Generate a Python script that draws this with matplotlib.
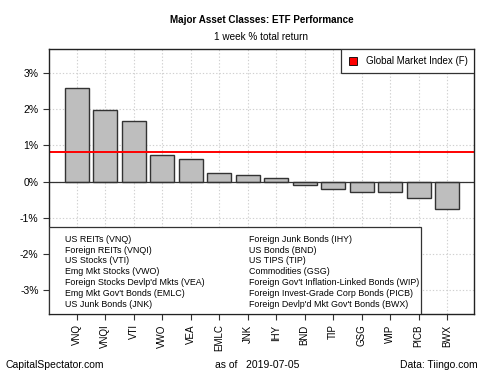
import matplotlib.pyplot as plt
import numpy as np
from matplotlib.patches import Rectangle

TICKERS = ["VNQ", "VNQI", "VTI", "VWO", "VEA", "EMLC", "JNK",
           "IHY", "BND", "TIP", "GSG", "WIP", "PICB", "BWX"]
RETURNS = [2.58, 1.98, 1.66, 0.72, 0.61, 0.24, 0.17,
           0.11, -0.11, -0.20, -0.28, -0.30, -0.45, -0.75]
GMI = 0.82
NAMES_LEFT = ["US REITs (VNQ)", "Foreign REITs (VNQI)", "US Stocks (VTI)",
              "Emg Mkt Stocks (VWO)", "Foreign Stocks Devlp'd Mkts (VEA)",
              "Emg Mkt Gov't Bonds (EMLC)", "US Junk Bonds (JNK)"]
NAMES_RIGHT = ["Foreign Junk Bonds (IHY)", "US Bonds (BND)", "US TIPS (TIP)",
               "Commodities (GSG)", "Foreign Gov't Inflation-Linked Bonds (WIP)",
               "Foreign Invest-Grade Corp Bonds (PICB)",
               "Foreign Devlp'd Mkt Gov't Bonds (BWX)"]
YTICKS = [-3, -2, -1, 0, 1, 2, 3]

plt.rcParams["font.family"] = ["Liberation Sans", "DejaVu Sans"]

fig = plt.figure(figsize=(5, 3.75), dpi=100)
ax = fig.add_axes([0.098, 0.1627, 0.85, 0.7066])

x = np.arange(len(TICKERS))
ax.set_axisbelow(True)
ax.grid(True, color="#d0d0d0", linestyle=(0, (1.2, 1.8)), linewidth=0.8)
ax.bar(x, RETURNS, width=0.85, color="#bebebe", edgecolor="#333333", linewidth=1.0)
ax.axhline(0, color="#333333", linewidth=0.9)
ax.axhline(GMI, color="red", linewidth=1.4)

ax.set_xlim(-0.97, 13.94)
ax.set_ylim(-3.65, 3.65)
ax.set_xticks(x)
ax.set_xticklabels(TICKERS, rotation=90, fontsize=7)
ax.set_yticks(YTICKS)
ax.set_yticklabels([f"{t}%" for t in YTICKS], fontsize=7.5)
ax.tick_params(direction="out", length=4, width=0.8, color="#333333")
for sp in ax.spines.values():
    sp.set_color("#222222")
    sp.set_linewidth(1.0)

# top-right legend
ax.add_patch(Rectangle((0.687, 0.911), 0.313, 0.089, transform=ax.transAxes,
                       facecolor="white", edgecolor="#333333", linewidth=0.9, zorder=5))
ax.add_patch(Rectangle((0.705, 0.94), 0.02, 0.03, transform=ax.transAxes,
                       facecolor="red", edgecolor="black", linewidth=0.6, zorder=6))
ax.text(0.747, 0.955, "Global Market Index (F)", transform=ax.transAxes,
        fontsize=7, va="center", ha="left", zorder=6)

# bottom-left legend of names
ax.add_patch(Rectangle((0.0, 0.0), 0.876, 0.329, transform=ax.transAxes,
                       facecolor="white", edgecolor="#333333", linewidth=0.9, zorder=5))
for i, (a, b) in enumerate(zip(NAMES_LEFT, NAMES_RIGHT)):
    yy = 0.282 - i * 0.0408
    ax.text(0.038, yy, a, transform=ax.transAxes, fontsize=6.4, va="center", zorder=6)
    ax.text(0.471, yy, b, transform=ax.transAxes, fontsize=6.4, va="center", zorder=6)

fig.text(0.523, 0.947, "Major Asset Classes: ETF Performance", ha="center",
         va="center", fontsize=7.1, fontweight="bold")
fig.text(0.523, 0.902, "1 week % total return", ha="center", va="center", fontsize=7.2)
fig.text(0.01, 0.027, "CapitalSpectator.com", ha="left", va="center", fontsize=7.5)
fig.text(0.43, 0.027, "as of   2019-07-05", ha="left", va="center", fontsize=7.5)
fig.text(0.955, 0.027, "Data: Tiingo.com", ha="right", va="center", fontsize=7.5)

fig.savefig("out.png", dpi=100)
